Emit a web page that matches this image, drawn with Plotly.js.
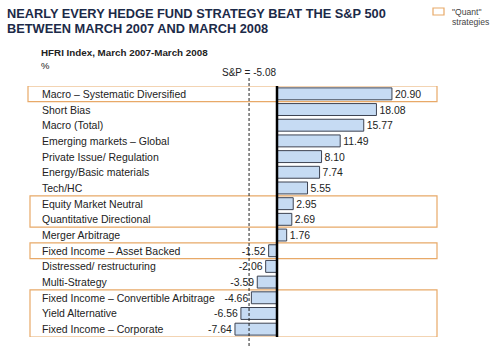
<!DOCTYPE html>
<html><head><meta charset="utf-8">
<script src="https://cdn.plot.ly/plotly-3.0.1.min.js"></script>
<style>body{margin:0;background:#fff}#c{width:500px;height:352px}</style>
</head><body><div id="c"></div>
<script>
const categories = ["Macro – Systematic Diversified","Short Bias","Macro (Total)","Emerging markets – Global","Private Issue/ Regulation","Energy/Basic materials","Tech/HC","Equity Market Neutral","Quantitative Directional","Merger Arbitrage","Fixed Income – Asset Backed","Distressed/ restructuring","Multi-Strategy","Fixed Income – Convertible Arbitrage","Yield Alternative","Fixed Income – Corporate"];
const values = [20.90,18.08,15.77,11.49,8.10,7.74,5.55,2.95,2.69,1.76,-1.52,-2.06,-3.59,-4.66,-6.56,-7.64];
const spValue = -5.08;
const quantGroups = [[0,0],[7,8],[10,10],[13,15]];

(function(){
const PX = 5.5, ZERO = 277, W = 500;
const xr = [-ZERO/PX, (W-ZERO)/PX];
const px2x = p => (p-ZERO)/PX;
const pTop = 86, pBot = 337;
const py2p = p => (pBot-p)/(pBot-pTop);

const trace = {
  type:'bar', orientation:'h', x: values, y: categories.map((c,i)=>i),
  width:0.76,
  marker:{color:'#c6dbf3', line:{color:'#3d4352', width:1}},
  text: values.map(v=>v.toFixed(2)), textposition:'outside',
  textfont:{family:'Liberation Sans, Arial', size:10.5, color:'#222'},
  cliponaxis:false, hoverinfo:'none'
};

const shapes = [];
quantGroups.forEach((g,k)=>{
  shapes.push({type:'rect', xref:'x', yref:'y', x0:px2x(k===0?28:30), x1:px2x(437), y0:g[0]-0.5, y1:g[1]+0.5,
    line:{color:'#e8a968', width:1.2}, fillcolor:'rgba(0,0,0,0)', layer:'below'});
});
shapes.push({type:'line', xref:'x', yref:'paper', x0:spValue, x1:spValue, y0:py2p(78), y1:py2p(346),
  line:{color:'#222', width:1, dash:'3px,2px'}});
shapes.push({type:'line', xref:'x', yref:'paper', x0:0, x1:0, y0:0, y1:1, line:{color:'#000', width:2.5}});
shapes.push({type:'rect', xref:'paper', yref:'paper', x0:433/W, x1:444/W, y0:py2p(8), y1:py2p(15),
  line:{color:'#e8a968', width:1.2}, fillcolor:'#fff'});

const ann = [];
categories.forEach((c,i)=>{
  ann.push({x:px2x(40), y:i, xref:'x', yref:'y', text:c, showarrow:false, xanchor:'left', yanchor:'middle',
    font:{family:'Liberation Sans, Arial', size:10.5, color:'#222'}});
});
const t = (text, x, y, size, bold, color, xa) => ann.push({x:x/W, y:py2p(y), xref:'paper', yref:'paper', text: bold?'<b>'+text+'</b>':text,
  showarrow:false, xanchor:xa||'left', yanchor:'middle', font:{family:'Liberation Sans, Arial', size:size, color:color}});
t('NEARLY EVERY HEDGE FUND STRATEGY BEAT THE S&P 500', 5, 13, 12.8, true, '#1c2a48');
t('BETWEEN MARCH 2007 AND MARCH 2008', 5, 29, 12.8, true, '#1c2a48');
t('HFRI Index, March 2007-March 2008', 39, 53, 9.8, true, '#222');
t('%', 39, 65, 9.5, false, '#222');
t('S&P = -5.08', 249, 72, 10, false, '#222', 'center');
t('"Quant"', 450, 12, 8.6, false, '#444');
t('strategies', 450, 22, 8.6, false, '#444');

Plotly.newPlot('c', [trace], {
  width:500, height:352, margin:{l:0, r:0, t:pTop, b:352-pBot},
  paper_bgcolor:'#fff', plot_bgcolor:'#fff', showlegend:false,
  xaxis:{range:xr, visible:false, fixedrange:true},
  yaxis:{range:[15.5,-0.5], visible:false, fixedrange:true},
  shapes: shapes, annotations: ann, bargap:0.2
}, {displayModeBar:false, staticPlot:true});
})();
</script></body></html>
